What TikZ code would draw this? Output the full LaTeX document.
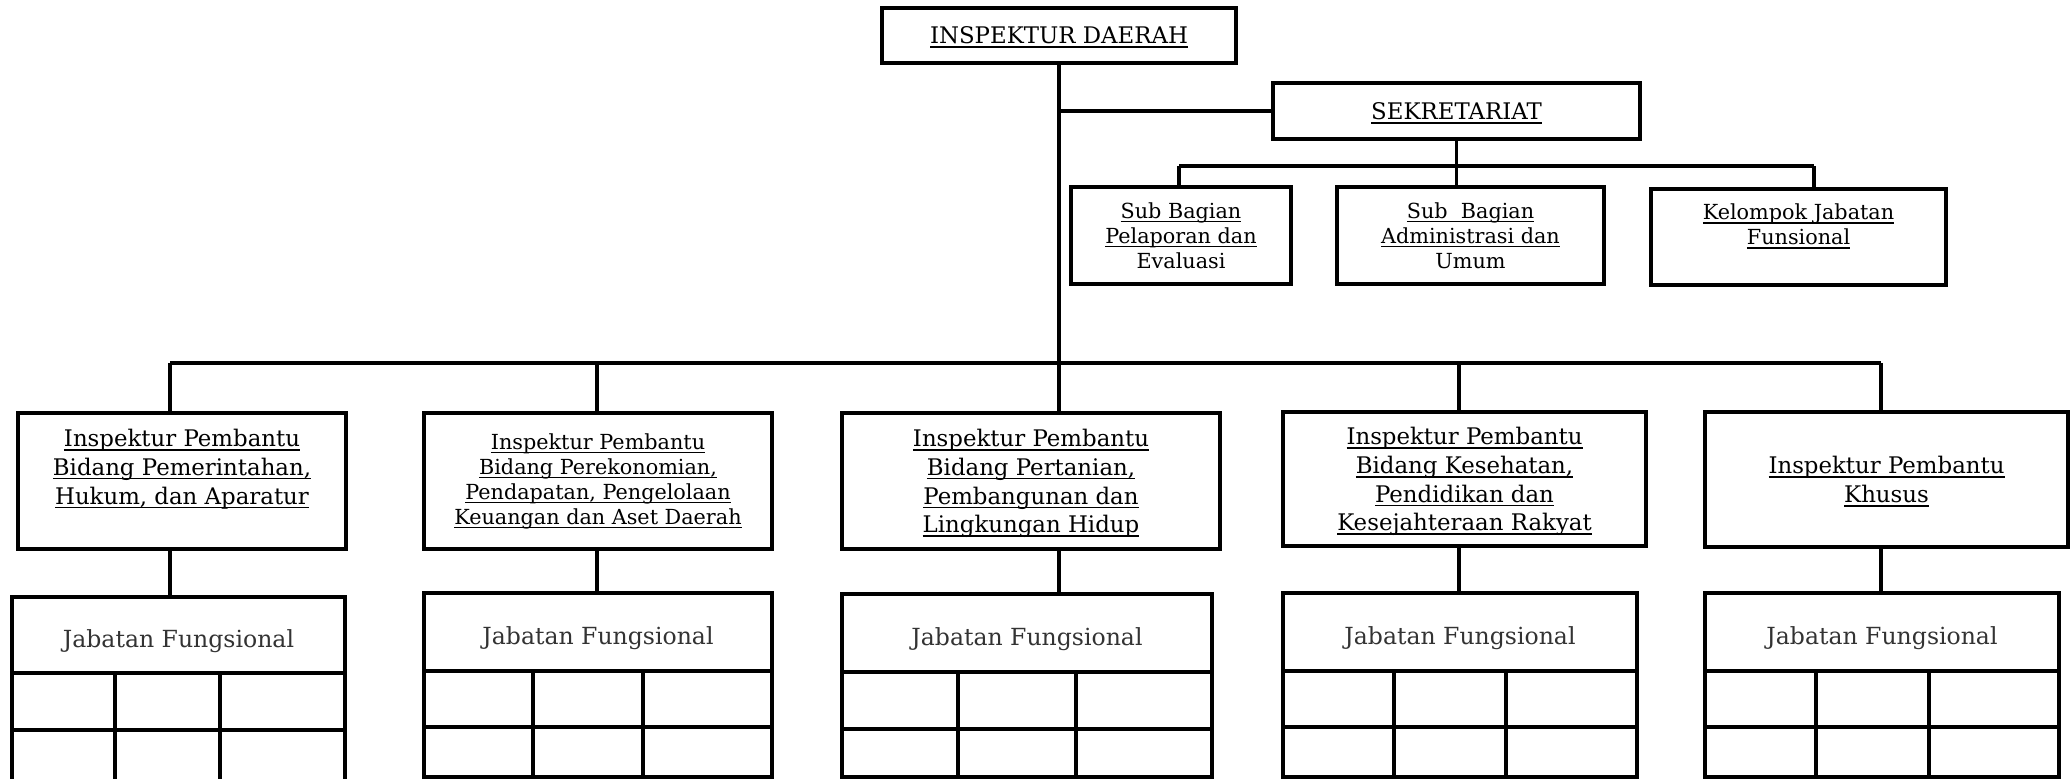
\documentclass[tikz,border=0pt]{standalone}
\usepackage{fontspec}
\setmainfont{DejaVu Serif}
\newcommand{\ulin}[1]{\setbox0\hbox{#1}\rlap{\rule[-1.2pt]{\wd0}{0.5pt}}\box0}
\tikzset{
  base/.style={draw, rectangle, line width=0.95pt, inner sep=0pt, outer sep=0pt, align=center},
  box/.style={base, text depth=-1.2pt, font=\fontsize{6.5}{8.2}\selectfont},
  smallbox/.style={base, font=\fontsize{5.9}{7.1}\selectfont},
  jfbox/.style={base, text height=8.5pt, text depth=1.6pt, text=black!80, font=\fontsize{6.7}{8}\selectfont}
}
\begin{document}
\begin{tikzpicture}[x=0.01cm, y=-0.01cm]
      \useasboundingbox (0,0) rectangle (2070,778);
      \clip (0,0) rectangle (2070,778);
      \node[box, text depth=-1.5pt, minimum width=3.54cm, minimum height=0.55cm] (kepala) at (1059,35.5) {\ulin{INSPEKTUR DAERAH}};
      \node[box, text depth=-1.5pt, minimum width=3.67cm, minimum height=0.56cm] (sekre) at (1456.5,111) {\ulin{SEKRETARIAT}};
      \node[smallbox, minimum width=2.20cm, minimum height=0.97cm] (sub1) at (1181,235.5) {\ulin{Sub Bagian}\\\ulin{Pelaporan dan}\\Evaluasi};
      \node[smallbox, minimum width=2.67cm, minimum height=0.97cm] (sub2) at (1470.5,235.5) {\ulin{Sub\ \ Bagian}\\\ulin{Administrasi dan}\\Umum};
      \node[smallbox, minimum width=2.95cm, minimum height=0.96cm] (sub3) at (1798.5,237) {\ulin{Kelompok Jabatan}\\\ulin{Funsional}\\~};
      \node[box, text depth=-1pt, minimum width=3.28cm, minimum height=1.36cm] (ip1) at (182,481) {\ulin{Inspektur Pembantu}\\\ulin{Bidang Pemerintahan,}\\\ulin{Hukum, dan Aparatur}\\~};
      \node[smallbox, minimum width=3.48cm, minimum height=1.36cm] (ip2) at (598,481) {\ulin{Inspektur Pembantu}\\\ulin{Bidang Perekonomian,}\\\ulin{Pendapatan, Pengelolaan}\\\ulin{Keuangan dan Aset Daerah}};
      \node[box, minimum width=3.78cm, minimum height=1.36cm] (ip3) at (1031,481) {\ulin{Inspektur Pembantu}\\\ulin{Bidang Pertanian,}\\\ulin{Pembangunan dan}\\\ulin{Lingkungan Hidup}};
      \node[box, minimum width=3.63cm, minimum height=1.34cm] (ip4) at (1464.5,479) {\ulin{Inspektur Pembantu}\\\ulin{Bidang Kesehatan,}\\\ulin{Pendidikan dan}\\\ulin{Kesejahteraan Rakyat}};
      \node[box, minimum width=3.63cm, minimum height=1.35cm] (ip5) at (1886.5,479.5) {\ulin{Inspektur Pembantu}\\\ulin{Khusus}};
      \node[jfbox, minimum width=3.33cm, minimum height=0.76cm] (jf1) at (178.5,635) {Jabatan Fungsional};
      \node[jfbox, minimum width=3.48cm, minimum height=0.78cm] (jf2) at (598,632) {Jabatan Fungsional};
      \node[jfbox, minimum width=3.70cm, minimum height=0.78cm] (jf3) at (1027,633) {Jabatan Fungsional};
      \node[jfbox, minimum width=3.54cm, minimum height=0.78cm] (jf4) at (1460,632) {Jabatan Fungsional};
      \node[jfbox, minimum width=3.54cm, minimum height=0.78cm] (jf5) at (1882,632) {Jabatan Fungsional};
      \coordinate (c1) at (170,363);
      \coordinate (c2) at (597,363);
      \coordinate (c3) at (1059,363);
      \coordinate (c4) at (1459,363);
      \coordinate (c5) at (1881,363);
      \coordinate (s1) at (1179,166);
      \coordinate (s3) at (1814,166);
      \begin{scope}[line width=0.95pt]
        \draw (kepala.south) to (c3);
        \draw (sekre.west) to (sekre.west -| kepala.south);
        \draw (sekre.south) to (sekre.south |- sub2.north);
        \draw (s1) to (s3);
        \draw (s1) to (s1 |- sub1.north);
        \draw (s3) to (s3 |- sub3.north);
        \draw (c1) to (c5);
        \draw (c1) to (c1 |- ip1.north);
        \draw (c2) to (c2 |- ip2.north);
        \draw (c3) to (c3 |- ip3.north);
        \draw (c4) to (c4 |- ip4.north);
        \draw (c5) to (c5 |- ip5.north);
        \draw (c1 |- ip1.south) to (c1 |- jf1.north);
        \draw (c2 |- ip2.south) to (c2 |- jf2.north);
        \draw (c3 |- ip3.south) to (c3 |- jf3.north);
        \draw (c4 |- ip4.south) to (c4 |- jf4.north);
        \draw (c5 |- ip5.south) to (c5 |- jf5.north);
      \end{scope}
      \begin{scope}[line width=0.95pt]
        \draw (jf1.south west) rectangle (jf1.south east |- 0,781);
        \draw (jf1.south west) ++(0,57) -- ++(333,0);
        \draw (115,673) -- (115,781) (220,673) -- (220,781);
        \draw (jf2.south west) rectangle (jf2.south east |- 0,777);
        \draw (jf2.south west) ++(0,56) -- ++(348,0);
        \draw (533,671) -- (533,777) (643,671) -- (643,777);
        \draw (jf3.south west) rectangle (jf3.south east |- 0,777);
        \draw (jf3.south west) ++(0,57) -- ++(370,0);
        \draw (958,672) -- (958,777) (1076,672) -- (1076,777);
        \draw (jf4.south west) rectangle (jf4.south east |- 0,777);
        \draw (jf4.south west) ++(0,56) -- ++(354,0);
        \draw (1394,671) -- (1394,777) (1506,671) -- (1506,777);
        \draw (jf5.south west) rectangle (jf5.south east |- 0,777);
        \draw (jf5.south west) ++(0,56) -- ++(354,0);
        \draw (1816,671) -- (1816,777) (1929,671) -- (1929,777);
      \end{scope}
    \end{tikzpicture}
\end{document}
